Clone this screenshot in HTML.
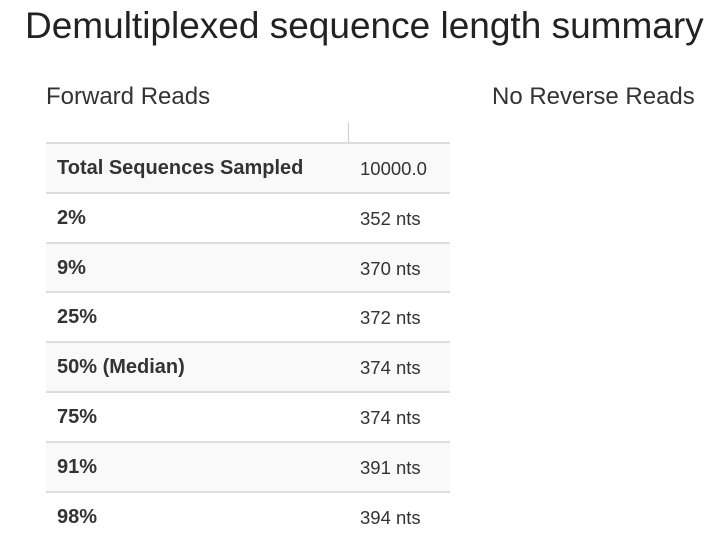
<!DOCTYPE html>
<html><head><meta charset="utf-8"><style>
body{margin:0;width:727px;height:532px;overflow:hidden;background:#fff;font-family:"Liberation Sans",Arial,sans-serif;color:#333;position:relative}
.t{position:absolute;white-space:nowrap}
#title{left:25px;top:5px;font-size:37px;color:#222}
#fw{left:46px;top:83px;font-size:24px}
#rv{left:492px;top:83px;font-size:24px}
#vl{position:absolute;left:348px;top:122px;width:1px;height:22px;background:#ccc}
.row{position:absolute;left:46px;width:404px;height:48px;border-top:2px solid #ddd}
.row.odd{background:#f9f9f9}
.row .k{position:absolute;left:11px;top:13px;font-size:20px;font-weight:bold;color:#333}
.row .v{position:absolute;left:314px;top:14px;font-size:18.5px;color:#333}
</style></head><body>
<div class="t" id="title">Demultiplexed sequence length summary</div>
<div class="t" id="fw">Forward Reads</div>
<div class="t" id="rv">No Reverse Reads</div>
<div id="vl"></div>
<div id="tbl"></div>
<script>
const labels=["Total Sequences Sampled","2%","9%","25%","50% (Median)","75%","91%","98%"];
const values=["10000.0","352 nts","370 nts","372 nts","374 nts","374 nts","391 nts","394 nts"];
const tbl=document.getElementById('tbl');
labels.forEach((l,i)=>{
  const r=document.createElement('div');
  r.className='row'+(i%2===0?' odd':'');
  r.style.top=(142+i*49.8)+'px';
  
  
  const k=document.createElement('div');k.className='k';k.textContent=l;
  
  
  const v=document.createElement('div');v.className='v';v.textContent=values[i];
  
  
  r.appendChild(k);r.appendChild(v);tbl.appendChild(r);
});
</script>
</body></html>
